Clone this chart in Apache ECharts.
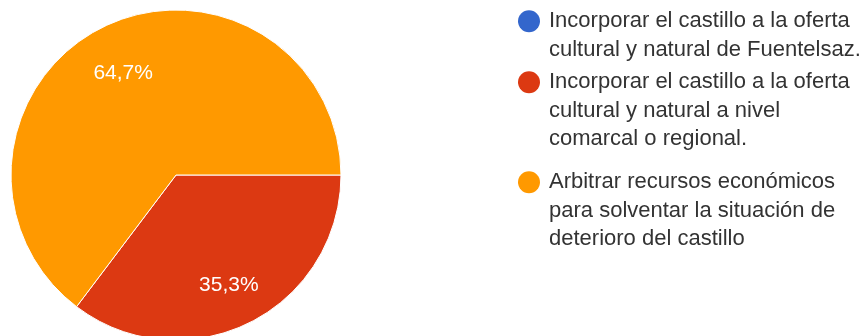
<!DOCTYPE html>
<html>
<head>
<meta charset="utf-8">
<script src="https://cdn.jsdelivr.net/npm/echarts@6/dist/echarts.min.js"></script>
<style>
  html, body { margin: 0; padding: 0; background: #ffffff; }
  #chart { width: 862px; height: 336px; }
</style>
</head>
<body>
<div id="chart"></div>
<script>
// Answer options (each line break is a legend line)
const categories = [
  'Incorporar el castillo a la oferta\ncultural y natural de Fuentelsaz.',
  'Incorporar el castillo a la oferta\ncultural y natural a nivel\ncomarcal o regional.',
  'Arbitrar recursos económicos\npara solventar la situación de\ndeterioro del castillo'
];
// Number of responses per option
const responses = [0, 6, 11];
// Slice colours
const sliceColors = ['#3366cc', '#dc3912', '#ff9900'];

// Layout
const FONT = "'Liberation Sans', Arial, Helvetica, sans-serif";
const LINE_H = 28.5;
const CENTER = [176, 175];
const RADIUS = 165;
const LEGEND_LEFT = 512;
const LEGEND_TOPS = [7, 68, 168];

const sliceData = categories.map((name, i) => ({
  name: name,
  value: responses[i],
  itemStyle: { color: sliceColors[i] }
}));

// Rich-text styles for the legend: a coloured dot on the first line of
// each entry, an indent on the following lines.
const legendRich = {
  t: { fontFamily: FONT, fontSize: 22, lineHeight: LINE_H, color: '#333333' },
  sp: { width: 9, lineHeight: LINE_H },
  ind: { width: 31, lineHeight: LINE_H }
};
sliceColors.forEach((c, i) => {
  legendRich['dot' + i] = {
    width: 22, height: 22, borderRadius: 11,
    backgroundColor: c, lineHeight: LINE_H
  };
});

function legendLabel(name) {
  const i = categories.indexOf(name);
  return name.split('\n')
    .map((line, j) => (j === 0 ? '{dot' + i + '|}{sp|}' : '{ind|}') + '{t|' + line + '}')
    .join('\n');
}

// one legend block per answer so each entry can be placed on its own
const legends = categories.map((name, i) => ({
  orient: 'vertical',
  left: LEGEND_LEFT,
  top: LEGEND_TOPS[i],
  padding: 0,
  itemWidth: 0,
  itemHeight: 0,
  selectedMode: false,
  data: [name],
  formatter: legendLabel,
  textStyle: {
    fontFamily: FONT,
    fontSize: 22,
    lineHeight: LINE_H,
    color: '#333333',
    rich: legendRich
  }
}));

// percentage with a decimal comma; a short spacer line above nudges it down
function percentLabel(p) {
  if (p.value <= 0) return '';
  return '{gap|}\n{v|' + String(p.percent).replace('.', ',') + '%}';
}

const chart = echarts.init(document.getElementById('chart'), null, { renderer: 'canvas' });

chart.setOption({
  animation: false,
  backgroundColor: '#ffffff',
  textStyle: { fontFamily: FONT },
  legend: legends,
  series: [
    {
      // the pie itself
      type: 'pie',
      center: CENTER,
      radius: [0, RADIUS],
      startAngle: 0,
      clockwise: true,
      silent: true,
      avoidLabelOverlap: false,
      label: { show: false },
      labelLine: { show: false },
      emphasis: { disabled: true },
      itemStyle: { borderColor: '#ffffff', borderWidth: 1 },
      data: sliceData
    },
    {
      // transparent ring that carries the percentage labels further out
      type: 'pie',
      center: CENTER,
      radius: [66, RADIUS],
      startAngle: 0,
      clockwise: true,
      silent: true,
      avoidLabelOverlap: false,
      percentPrecision: 1,
      emphasis: { disabled: true },
      itemStyle: { color: 'transparent', borderWidth: 0 },
      labelLine: { show: false },
      label: {
        show: true,
        position: 'inside',
        opacity: 1,
        color: '#ffffff',
        fontFamily: FONT,
        fontSize: 21,
        formatter: percentLabel,
        rich: {
          gap: { height: 8, lineHeight: 8 },
          v: { color: '#ffffff', fontFamily: FONT, fontSize: 21, lineHeight: 24 }
        }
      },
      data: categories.map((name, i) => ({ name: name, value: responses[i] }))
    }
  ]
});
</script>
</body>
</html>
